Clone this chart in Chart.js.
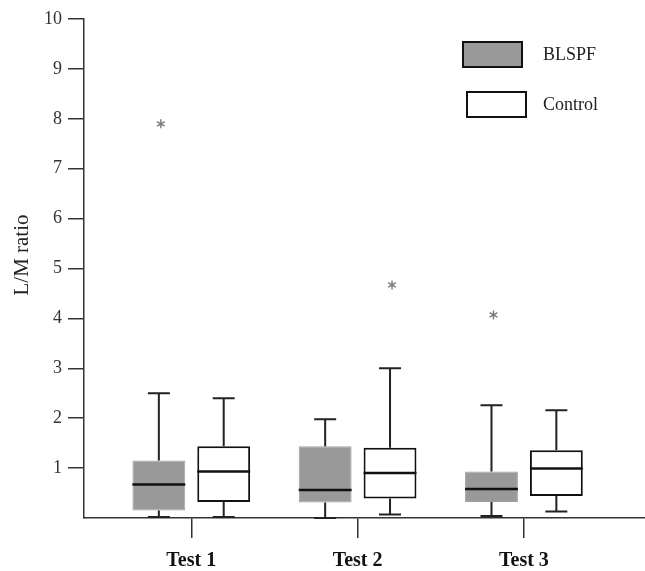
<!DOCTYPE html>
<html><head><meta charset="utf-8">
<script src="https://cdn.jsdelivr.net/npm/chart.js@4/dist/chart.umd.min.js"></script>
<style>html,body{margin:0;padding:0;background:#fff}#wrap{width:645px;height:571px;position:relative}</style>
</head><body><div id="wrap"><canvas id="c"></canvas></div>
<script>
// ---- data ----
const categories = ['Test 1', 'Test 2', 'Test 3'];
const seriesNames = ['BLSPF', 'Control'];
const yAxisTitle = 'L/M ratio';
const blspfMin      = [0.02, 0.00, 0.04];
const blspfQ1       = [0.15, 0.31, 0.32];
const blspfMedian   = [0.67, 0.56, 0.58];
const blspfQ3       = [1.15, 1.44, 0.93];
const blspfMax      = [2.50, 1.98, 2.26];
const blspfOutliers = [[7.9], [], [4.07]];
const controlMin      = [0.02, 0.07, 0.13];
const controlQ1       = [0.32, 0.39, 0.44];
const controlMedian   = [0.93, 0.90, 0.99];
const controlQ3       = [1.44, 1.41, 1.36];
const controlMax      = [2.40, 3.00, 2.16];
const controlOutliers = [[], [4.67], []];
const yTickValues = [1, 2, 3, 4, 5, 6, 7, 8, 9, 10];
const xTickValues = [1, 2, 3];

const stats = [
  {min: blspfMin, q1: blspfQ1, med: blspfMedian, q3: blspfQ3, max: blspfMax, out: blspfOutliers},
  {min: controlMin, q1: controlQ1, med: controlMedian, q3: controlQ3, max: controlMax, out: controlOutliers}
];

const SERIF = "'Liberation Serif', 'Times New Roman', serif";
const INK = '#222';

function drawAsterisk(ctx, x, y, r) {
  ctx.save();
  ctx.strokeStyle = '#7a7a7a';
  ctx.lineWidth = 1.4;
  ctx.beginPath();
  for (let k = 0; k < 3; k++) {
    const a = Math.PI / 2 + k * Math.PI / 3;
    ctx.moveTo(x - r * Math.cos(a), y - r * Math.sin(a));
    ctx.lineTo(x + r * Math.cos(a), y + r * Math.sin(a));
  }
  ctx.stroke();
  ctx.restore();
}

const boxPlugin = {
  id: 'boxParts',
  afterDatasetsDraw(chart) {
    const ctx = chart.ctx;
    const y = chart.scales.y;
    ctx.save();
    chart.data.datasets.forEach((ds, di) => {
      const meta = chart.getDatasetMeta(di);
      const s = stats[di];
      meta.data.forEach((bar, i) => {
        const cx = bar.x;
        const half = bar.width / 2;
        const cap = 11;
        ctx.strokeStyle = INK;
        ctx.lineWidth = 2;
        ctx.lineCap = 'butt';
        ctx.beginPath();
        ctx.moveTo(cx, y.getPixelForValue(s.q3[i]));
        ctx.lineTo(cx, y.getPixelForValue(s.max[i]));
        ctx.moveTo(cx - cap, y.getPixelForValue(s.max[i]));
        ctx.lineTo(cx + cap, y.getPixelForValue(s.max[i]));
        ctx.moveTo(cx, y.getPixelForValue(s.q1[i]));
        ctx.lineTo(cx, y.getPixelForValue(s.min[i]));
        ctx.moveTo(cx - cap, y.getPixelForValue(s.min[i]));
        ctx.lineTo(cx + cap, y.getPixelForValue(s.min[i]));
        ctx.stroke();
        ctx.lineWidth = 2.5;
        ctx.strokeStyle = '#111';
        ctx.beginPath();
        ctx.moveTo(cx - half, y.getPixelForValue(s.med[i]));
        ctx.lineTo(cx + half, y.getPixelForValue(s.med[i]));
        ctx.stroke();
        s.out[i].forEach(v => drawAsterisk(ctx, cx + 2, y.getPixelForValue(v), 4.5));
      });
    });
    ctx.restore();
  }
};

const legendPlugin = {
  id: 'boxLegend',
  afterDraw(chart) {
    const ctx = chart.ctx;
    const items = [
      {fill: '#999999', bx: 463, by: 42, label: seriesNames[0]},
      {fill: '#ffffff', bx: 467, by: 92, label: seriesNames[1]}
    ];
    ctx.save();
    items.forEach(it => {
      ctx.fillStyle = it.fill;
      ctx.fillRect(it.bx, it.by, 59, 25);
      ctx.strokeStyle = '#111';
      ctx.lineWidth = 2;
      ctx.strokeRect(it.bx, it.by, 59, 25);
      ctx.fillStyle = INK;
      ctx.font = '18px ' + SERIF;
      ctx.textAlign = 'left';
      ctx.textBaseline = 'middle';
      ctx.fillText(it.label, 543, it.by + 13);
    });
    // y axis title
    ctx.translate(22, 255);
    ctx.rotate(-Math.PI / 2);
    ctx.font = '21px ' + SERIF;
    ctx.textAlign = 'center';
    ctx.textBaseline = 'middle';
    ctx.fillStyle = INK;
    ctx.fillText(yAxisTitle, 0, 0);
    ctx.restore();
  }
};

const datasets = stats.map((s, di) => ({
  label: seriesNames[di],
  data: xTickValues.map((xv, i) => ({x: xv, y: [s.q1[i], s.q3[i]]})),
  backgroundColor: di === 0 ? '#999999' : '#ffffff',
  borderColor: di === 0 ? '#a0a0a0' : '#111111',
  borderWidth: di === 0 ? 1 : 2,
  borderSkipped: false,
  categoryPercentage: 0.78,
  barPercentage: 0.815
}));

new Chart(document.getElementById('c'), {
  type: 'bar',
  data: {datasets},
  plugins: [boxPlugin, legendPlugin],
  options: {
    responsive: true,
    maintainAspectRatio: false,
    animation: false,
    layout: {padding: {top: 19, right: 0, left: 0, bottom: 0}},
    plugins: {legend: {display: false}, tooltip: {enabled: false}},
    scales: {
      x: {
        type: 'linear',
        offset: false,
        min: 0.355,
        max: 3.728,
        afterBuildTicks: sc => { sc.ticks = xTickValues.map(v => ({value: v})); },
        afterFit: sc => { sc.height = 53; },
        ticks: {
          callback: v => categories[v - 1],
          font: {family: SERIF, size: 20, weight: 'bold'},
          color: '#111',
          padding: 11,
          maxRotation: 0,
          autoSkip: false
        },
        grid: {display: true, offset: false, drawOnChartArea: false, drawTicks: true, tickLength: 20, color: '#333', lineWidth: 1.5},
        border: {display: true, color: '#333', width: 1.5}
      },
      y: {
        type: 'linear',
        min: 0,
        max: 10,
        afterBuildTicks: sc => { sc.ticks = yTickValues.map(v => ({value: v})); },
        afterFit: sc => { sc.width = 84; },
        ticks: {
          font: {family: SERIF, size: 18},
          color: '#333',
          padding: 6
        },
        grid: {display: true, drawOnChartArea: false, drawTicks: true, tickLength: 16, color: '#333', lineWidth: 1.5},
        border: {display: true, color: '#333', width: 1.5},
        title: {display: false}
      }
    }
  }
});
</script>
</body></html>
